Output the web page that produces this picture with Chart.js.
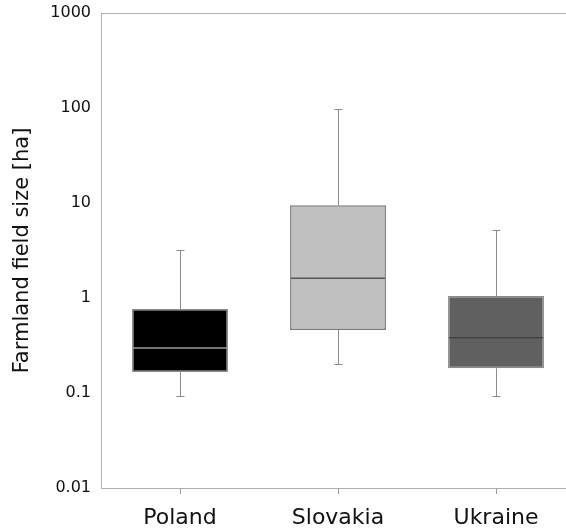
<!DOCTYPE html>
<html>
<head>
<meta charset="utf-8">
<script src="https://cdn.jsdelivr.net/npm/chart.js@4/dist/chart.umd.min.js"></script>
<style>
  html, body { margin: 0; padding: 0; background: #fff; overflow: hidden; }
</style>
</head>
<body>
<canvas id="boxChart" width="566" height="532"></canvas>
<script>
const countries = ["Poland", "Slovakia", "Ukraine"];
const mins = [0.093, 0.2, 0.093];
const lowerQuartiles = [0.166, 0.46, 0.182];
const medians = [0.298, 1.61, 0.382];
const upperQuartiles = [0.766, 9.46, 1.05];
const maxs = [3.2, 97, 5.16];
const yTicks = [0.01, 0.1, 1, 10, 100, 1000];

const boxFill = ["#000000", "#c0c0c0", "#606060"];
const boxBorder = ["#8a8a8a", "#7a7a7a", "#8a8a8a"];
const medianColor = ["#9a9a9a", "#555555", "#444444"];

const whiskerPlugin = {
  id: "whiskers",
  beforeDatasetsDraw(chart) {
    const ctx = chart.ctx;
    const xScale = chart.scales.x;
    const yScale = chart.scales.y;
    ctx.save();
    ctx.strokeStyle = "#8c8c8c";
    ctx.lineWidth = 1;
    countries.forEach((name, i) => {
      const x = Math.round(xScale.getPixelForValue(i)) + 0.5;
      const yMin = yScale.getPixelForValue(mins[i]);
      const yMax = yScale.getPixelForValue(maxs[i]);
      const yQ1 = yScale.getPixelForValue(lowerQuartiles[i]);
      const yQ3 = yScale.getPixelForValue(upperQuartiles[i]);
      ctx.beginPath();
      ctx.moveTo(x, yQ3);
      ctx.lineTo(x, yMax);
      ctx.moveTo(x, yQ1);
      ctx.lineTo(x, yMin);
      ctx.moveTo(x - 4, Math.round(yMax) + 0.5);
      ctx.lineTo(x + 4, Math.round(yMax) + 0.5);
      ctx.moveTo(x - 4, Math.round(yMin) + 0.5);
      ctx.lineTo(x + 4, Math.round(yMin) + 0.5);
      ctx.stroke();
    });
    // top frame line
    const area = chart.chartArea;
    ctx.strokeStyle = "#b0b0b0";
    ctx.beginPath();
    ctx.moveTo(area.left, Math.round(area.top) + 0.5);
    ctx.lineTo(area.right, Math.round(area.top) + 0.5);
    ctx.stroke();
    ctx.restore();
  },
  afterDatasetsDraw(chart) {
    const ctx = chart.ctx;
    const yScale = chart.scales.y;
    const meta = chart.getDatasetMeta(0);
    ctx.save();
    ctx.lineWidth = 1.5;
    meta.data.forEach((bar, i) => {
      const y = yScale.getPixelForValue(medians[i]);
      ctx.strokeStyle = medianColor[i];
      ctx.beginPath();
      ctx.moveTo(bar.x - bar.width / 2 + 1, y);
      ctx.lineTo(bar.x + bar.width / 2 - 1, y);
      ctx.stroke();
    });
    ctx.restore();
  },
};

const ctx = document.getElementById("boxChart").getContext("2d");

new Chart(ctx, {
  type: "bar",
  data: {
    datasets: [
      {
        data: countries.map((name, i) => ({
          x: i,
          y: [lowerQuartiles[i], upperQuartiles[i]],
        })),
        backgroundColor: boxFill,
        borderColor: boxBorder,
        borderWidth: 1.5,
        borderSkipped: false,
        categoryPercentage: 1,
        barPercentage: 0.607,
      },
    ],
  },
  options: {
    responsive: false,
    animation: false,
    layout: { padding: { top: 13, right: 0, bottom: 0, left: 0 } },
    plugins: {
      legend: { display: false },
      tooltip: { enabled: false },
    },
    scales: {
      x: {
        type: "linear",
        min: -0.5,
        max: 2.443,
        offset: false,
        afterBuildTicks: (scale) => {
          scale.ticks = countries.map((name, i) => ({ value: i }));
        },
        afterFit: (scale) => {
          scale.height = 44;
          scale.paddingLeft = 0;
          scale.paddingRight = 0;
        },
        ticks: {
          callback: (value) => countries[value],
          color: "#111111",
          padding: 11,
          maxRotation: 0,
          autoSkip: false,
          font: { family: "DejaVu Sans", size: 22 },
        },
        grid: {
          offset: false,
          drawOnChartArea: false,
          tickLength: 6,
          tickColor: "#9a9a9a",
        },
        border: { display: true, color: "#b0b0b0", width: 1 },
      },
      y: {
        type: "logarithmic",
        min: 0.01,
        max: 1000,
        afterBuildTicks: (scale) => {
          scale.ticks = yTicks.map((v) => ({ value: v }));
        },
        afterFit: (scale) => {
          scale.width = 101;
          scale.paddingTop = 0;
          scale.paddingBottom = 0;
        },
        ticks: {
          callback: (value) => String(value),
          color: "#111111",
          padding: 10,
          font: { family: "DejaVu Sans", size: 16 },
        },
        grid: { drawOnChartArea: false, drawTicks: false },
        border: { display: true, color: "#b0b0b0", width: 1 },
        title: {
          display: true,
          text: "Farmland field size [ha]",
          color: "#111111",
          padding: { top: 10, bottom: 0 },
          font: { family: "DejaVu Sans", size: 21 },
        },
      },
    },
  },
  plugins: [whiskerPlugin],
});
</script>
</body>
</html>
